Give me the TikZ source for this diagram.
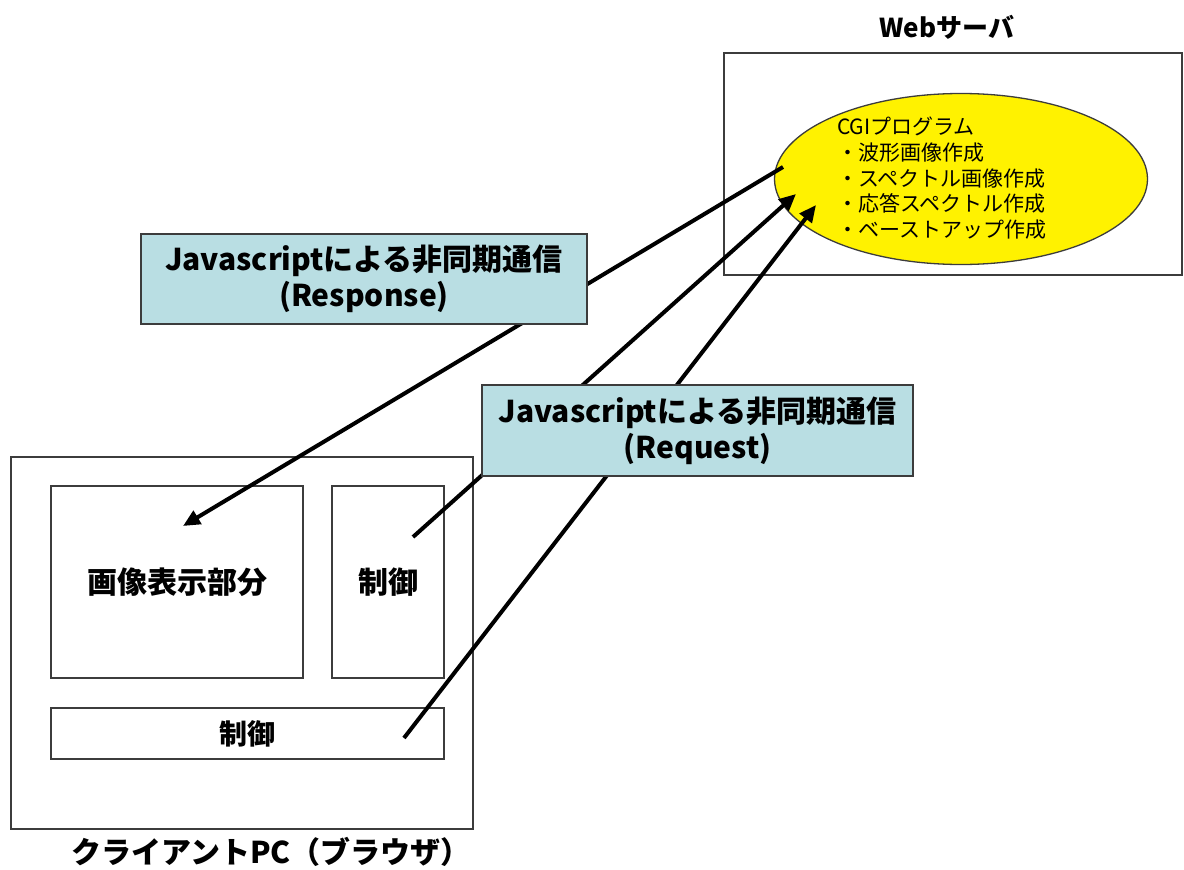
\documentclass[tikz,border=0pt]{standalone}
\usepackage{fontspec}
\setmainfont{Noto Sans CJK JP}
\usetikzlibrary{arrows.meta,shapes.geometric}
\definecolor{lblue}{RGB}{185,222,227}
\definecolor{edge}{RGB}{60,60,60}
\tikzset{
  frame/.style={draw=edge,line width=1.3pt,fill=white,inner sep=0pt},
  labelbox/.style={draw=edge,line width=1.3pt,fill=lblue,inner sep=0pt,align=center,
    font=\fontsize{30}{36}\selectfont\bfseries},
  conn/.style={line width=4pt,-{Triangle[length=17pt,width=15pt]}},
  bigtxt/.style={font=\fontsize{30}{36}\selectfont\bfseries}
}
\begin{document}
\begin{tikzpicture}[x=1pt,y=-1pt]
\useasboundingbox (0,0) rectangle (1184,870);
% web server
\node[frame,minimum width=458pt,minimum height=222pt] (web) at (953,164) {};
\node[font=\fontsize{26}{30}\selectfont\bfseries] (webl) at (947,27) {Webサーバ};
\node[draw=edge,line width=1.3pt,fill=yellow,ellipse,minimum width=373pt,minimum height=171pt,inner sep=0pt] (cgi) at (961,179) {};
\node[anchor=north west,inner sep=0pt,align=left,font=\fontsize{21}{25.6}\selectfont] (cgit) at (837,117)
  {CGIプログラム\\・波形画像作成\\・スペクトル画像作成\\・応答スペクトル作成\\・ベーストアップ作成};
% client
\node[frame,minimum width=462pt,minimum height=372pt] (client) at (242,643) {};
\node[font=\fontsize{30}{34}\selectfont\bfseries] (clientl) at (271,852) {クライアントPC（ブラウザ）};
\node[frame,minimum width=252pt,minimum height=192pt,bigtxt] (img) at (177,582) {画像表示部分};
\node[frame,minimum width=112pt,minimum height=192pt,bigtxt] (ctl1) at (388,582) {制御};
\node[frame,minimum width=393pt,minimum height=51pt,font=\fontsize{28}{32}\selectfont\bfseries] (ctl2) at (247.5,733.5) {制御};
% connector ends
\coordinate (rs) at (783,167);
\coordinate (re) at (183,526);
\coordinate (q1s) at (413,537);
\coordinate (q1e) at (796,194);
\coordinate (q2s) at (404,738);
\coordinate (q2e) at (816,205);
\draw[conn] (rs) -- (re);
\draw[conn] (q1s) -- (q1e);
\draw[conn] (q2s) -- (q2e);
% labels
\node[labelbox,minimum width=446pt,minimum height=90pt] (resp) at (364,279) {Javascriptによる非同期通信\\(Response)};
\node[labelbox,minimum width=431pt,minimum height=91pt] (req) at (697.5,430.5) {Javascriptによる非同期通信\\(Request)};
\end{tikzpicture}
\end{document}
